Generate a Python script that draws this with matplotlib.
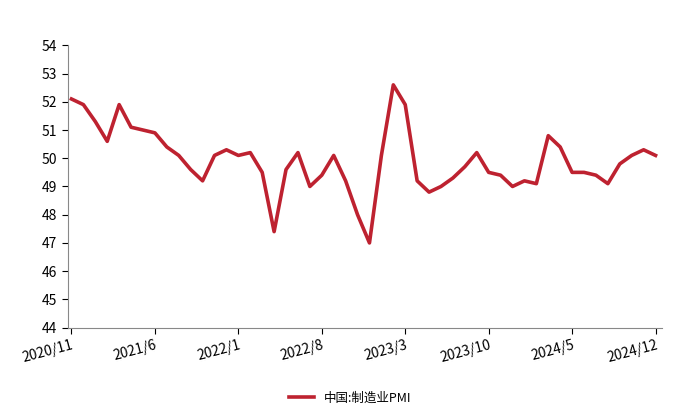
import matplotlib
matplotlib.use("Agg")
import matplotlib.pyplot as plt

plt.rcParams['font.family'] = ['Noto Sans CJK SC', 'DejaVu Sans']

values = [52.1, 51.9, 51.3, 50.6, 51.9, 51.1, 51.0, 50.9, 50.4, 50.1, 49.6, 49.2,
          50.1, 50.3, 50.1, 50.2, 49.5, 47.4, 49.6, 50.2, 49.0, 49.4, 50.1, 49.2,
          48.0, 47.0, 50.1, 52.6, 51.9, 49.2, 48.8, 49.0, 49.3, 49.7, 50.2, 49.5,
          49.4, 49.0, 49.2, 49.1, 50.8, 50.4, 49.5, 49.5, 49.4, 49.1, 49.8, 50.1,
          50.3, 50.1]
tick_pos = [0, 7, 14, 21, 28, 35, 42, 49]
tick_labels = ['2020/11', '2021/6', '2022/1', '2022/8', '2023/3', '2023/10', '2024/5', '2024/12']

fig = plt.figure(figsize=(7, 4.2), dpi=100)
ax = fig.add_axes([0.097, 0.22, 0.848, 0.672])
ax.plot(range(len(values)), values, color='#be2230', lw=2.6, label='中国:制造业PMI')
ax.set_xlim(-0.3, 49.5)
ax.set_ylim(44, 54)
ax.set_yticks(range(44, 55))
ax.set_xticks(tick_pos)
ax.set_xticklabels(tick_labels, rotation=15, fontsize=10, ha='right', rotation_mode='anchor')
ax.tick_params(axis='y', labelsize=10, length=4, direction='out')
ax.tick_params(axis='x', length=4, direction='out')
for s in ['top', 'right']:
    ax.spines[s].set_visible(False)
for s in ['left', 'bottom']:
    ax.spines[s].set_color('#888888')
fig.legend(loc='lower center', bbox_to_anchor=(0.5, 0.01), frameon=False, fontsize=9)
fig.savefig('out.png')
